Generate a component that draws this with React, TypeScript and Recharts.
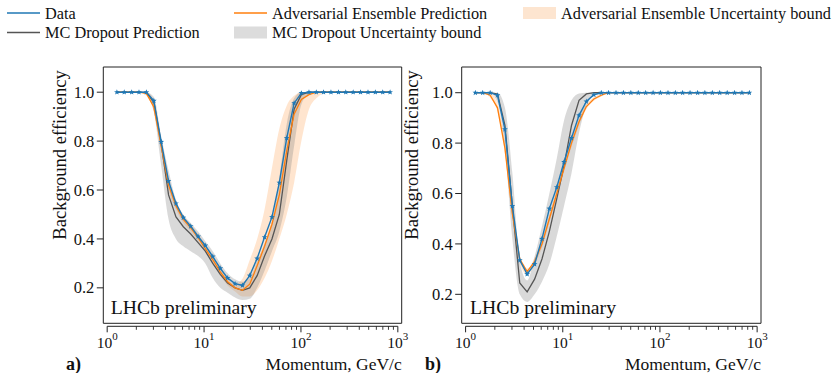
import React from "react"
import {
  ComposedChart,
  Line,
  Area,
  XAxis,
  YAxis,
  ReferenceArea,
  ReferenceLine,
} from "recharts"

// momentum bin centres, GeV/c
const momentum = [
  1.26, 1.5, 1.79, 2.13, 2.54, 3.03, 3.61, 4.3, 5.13, 6.11, 7.28, 8.68, 10.3,
  12.3, 14.7, 17.5, 20.9, 24.9, 29.6, 35.3, 42.1, 50.2, 59.8, 71.3, 85, 101,
  121, 144, 171, 204, 244, 290, 346, 412, 492, 586, 698, 832,
]

// panel a)
const aData = [
  1, 1, 1, 1, 1, 0.965, 0.797, 0.637, 0.545, 0.487, 0.452, 0.41, 0.373, 0.328,
  0.28, 0.24, 0.217, 0.21, 0.25, 0.32, 0.407, 0.489, 0.63, 0.812, 0.955, 0.996,
  1, 1, 1, 1, 1, 1, 1, 1, 1, 1, 1, 1,
]
const aAE = [
  1, 1, 1, 1, 0.995, 0.94, 0.78, 0.62, 0.535, 0.48, 0.445, 0.405, 0.36, 0.315,
  0.265, 0.225, 0.2, 0.19, 0.215, 0.29, 0.37, 0.46, 0.58, 0.76, 0.91, 0.97,
  0.99, 1, 1, 1, 1, 1, 1, 1, 1, 1, 1, 1,
]
const aAELow = [
  1, 1, 1, 1, 0.985, 0.92, 0.76, 0.6, 0.52, 0.465, 0.43, 0.39, 0.345, 0.3,
  0.25, 0.21, 0.185, 0.165, 0.165, 0.19, 0.24, 0.31, 0.4, 0.5, 0.63, 0.8, 0.93,
  0.975, 0.995, 1, 1, 1, 1, 1, 1, 1, 1, 1,
]
const aAEHigh = [
  1, 1, 1, 1, 1, 0.965, 0.8, 0.64, 0.55, 0.495, 0.46, 0.42, 0.375, 0.33, 0.28,
  0.24, 0.215, 0.237, 0.314, 0.4, 0.52, 0.69, 0.85, 0.945, 0.985, 1, 1, 1, 1,
  1, 1, 1, 1, 1, 1, 1, 1, 1,
]
const aMC = [
  1, 1, 1, 1, 0.998, 0.96, 0.79, 0.58, 0.49, 0.45, 0.42, 0.385, 0.35, 0.3,
  0.255, 0.22, 0.2, 0.19, 0.2, 0.25, 0.33, 0.4, 0.5, 0.72, 0.93, 0.99, 1, 1, 1,
  1, 1, 1, 1, 1, 1, 1, 1, 1,
]
const aMCLow = [
  1, 1, 1, 1, 0.99, 0.92, 0.7, 0.48, 0.4, 0.37, 0.35, 0.33, 0.3, 0.24, 0.2,
  0.18, 0.16, 0.15, 0.155, 0.2, 0.27, 0.35, 0.43, 0.57, 0.78, 0.95, 0.993, 1,
  1, 1, 1, 1, 1, 1, 1, 1, 1, 1,
]
const aMCHigh = [
  1, 1, 1, 1, 1, 0.98, 0.82, 0.68, 0.56, 0.5, 0.465, 0.43, 0.39, 0.35, 0.3,
  0.26, 0.235, 0.225, 0.24, 0.31, 0.38, 0.47, 0.65, 0.87, 0.975, 1, 1, 1, 1, 1,
  1, 1, 1, 1, 1, 1, 1, 1,
]

// panel b)
const bData = [
  1, 1, 1, 0.99, 0.855, 0.55, 0.335, 0.28, 0.32, 0.42, 0.54, 0.625, 0.725,
  0.82, 0.91, 0.965, 0.992, 1, 1, 1, 1, 1, 1, 1, 1, 1, 1, 1, 1, 1, 1, 1, 1, 1,
  1, 1, 1, 1,
]
const bAE = [
  1, 1, 0.99, 0.94, 0.78, 0.52, 0.34, 0.29, 0.33, 0.4, 0.5, 0.6, 0.7, 0.8,
  0.885, 0.945, 0.975, 0.99, 1, 1, 1, 1, 1, 1, 1, 1, 1, 1, 1, 1, 1, 1, 1, 1, 1,
  1, 1, 1,
]
const bAELow = [
  1, 1, 0.98, 0.925, 0.76, 0.5, 0.325, 0.278, 0.318, 0.385, 0.485, 0.585,
  0.685, 0.785, 0.87, 0.935, 0.968, 0.985, 1, 1, 1, 1, 1, 1, 1, 1, 1, 1, 1, 1,
  1, 1, 1, 1, 1, 1, 1, 1,
]
const bAEHigh = [
  1, 1, 1, 0.955, 0.8, 0.54, 0.355, 0.302, 0.345, 0.415, 0.515, 0.615, 0.715,
  0.815, 0.9, 0.955, 0.982, 0.995, 1, 1, 1, 1, 1, 1, 1, 1, 1, 1, 1, 1, 1, 1, 1,
  1, 1, 1, 1, 1,
]
const bMC = [
  1, 1, 1, 0.995, 0.87, 0.55, 0.245, 0.21, 0.26, 0.34, 0.45, 0.58, 0.71, 0.87,
  0.97, 0.995, 1, 1, 1, 1, 1, 1, 1, 1, 1, 1, 1, 1, 1, 1, 1, 1, 1, 1, 1, 1, 1, 1,
]
const bMCLow = [
  1, 1, 1, 0.96, 0.78, 0.42, 0.2, 0.17, 0.2, 0.25, 0.32, 0.43, 0.55, 0.68,
  0.84, 0.95, 0.99, 1, 1, 1, 1, 1, 1, 1, 1, 1, 1, 1, 1, 1, 1, 1, 1, 1, 1, 1, 1,
  1,
]
const bMCHigh = [
  1, 1, 1, 1, 0.94, 0.68, 0.33, 0.255, 0.35, 0.47, 0.6, 0.74, 0.89, 0.97,
  0.997, 1, 1, 1, 1, 1, 1, 1, 1, 1, 1, 1, 1, 1, 1, 1, 1, 1, 1, 1, 1, 1, 1, 1,
]

const majorTicks = [1, 10, 100, 1000]
const minorTicks = [
  2, 3, 4, 5, 6, 7, 8, 9, 20, 30, 40, 50, 60, 70, 80, 90, 200, 300, 400, 500,
  600, 700, 800, 900,
]
const yTicks = [0.2, 0.4, 0.6, 0.8, 1.0]

const X_MIN = 0.912
const X_MAX = 1096

const BLUE = "#1f77b4"
const ORANGE = "#ff7f0e"
const GRAY = "#555555"
const FONT = "Liberation Serif, Tinos, DejaVu Serif, Noto Serif, Times, serif"

function buildRows(d, ae, aeLo, aeHi, mc, mcLo, mcHi) {
  return momentum.map((p, i) => ({
    p,
    data: d[i],
    ae: ae[i],
    aeBand: [aeLo[i], aeHi[i]],
    mc: mc[i],
    mcBand: [mcLo[i], mcHi[i]],
  }))
}

const Star = (props) => {
  const { cx, cy } = props
  if (cx == null || cy == null) return null
  const pts = []
  for (let k = 0; k < 10; k++) {
    const r = k % 2 === 0 ? 3 : 1.3
    const a = -Math.PI / 2 + (k * Math.PI) / 5
    pts.push(`${cx + r * Math.cos(a)},${cy + r * Math.sin(a)}`)
  }
  return <polygon points={pts.join(" ")} fill={BLUE} stroke="none" />
}

const XTick = (props) => {
  const { x, y, payload } = props
  const v = payload.value
  const major = majorTicks.includes(v)
  if (!major) {
    return <line x1={x} x2={x} y1={y + 3} y2={y + 6.5} stroke="#222" strokeWidth={0.9} />
  }
  const exp = Math.round(Math.log10(v))
  return (
    <g>
      <line x1={x} x2={x} y1={y + 3} y2={y + 9} stroke="#222" strokeWidth={1} />
      <text x={x} y={y + 25} textAnchor="middle" style={{ fontFamily: FONT }} fontSize={15.5} fill="#111">
        <tspan>10</tspan>
        <tspan dy={-8} fontSize={11}>{exp}</tspan>
      </text>
    </g>
  )
}

const YTick = (props) => {
  const { x, y, payload } = props
  return (
    <g>
      <line x1={x - 6.5} x2={x} y1={y} y2={y} stroke="#222" strokeWidth={1} />
      <text x={x - 9} y={y + 5.6} textAnchor="end" style={{ fontFamily: FONT }} fontSize={16.5} fill="#111">
        {payload.value.toFixed(1)}
      </text>
    </g>
  )
}

function Panel({ rows, yDomain, left, width, marginLeft, yAxisWidth, marginRight }) {
  return (
    <div style={{ position: "absolute", left, top: 0 }}>
      <ComposedChart
        width={width}
        height={373}
        data={rows}
        margin={{ top: 67, right: marginRight, left: marginLeft, bottom: 9.7 }}
      >
        <XAxis
          dataKey="p"
          type="number"
          scale="log"
          domain={[X_MIN, X_MAX]}
          allowDataOverflow
          ticks={[...majorTicks, ...minorTicks]}
          tick={(p) => <XTick {...p} />}
          tickLine={false}
          axisLine={false}
          tickSize={0}
          tickMargin={0}
          height={40}
          interval={0}
        />
        <YAxis
          type="number"
          domain={yDomain}
          allowDataOverflow
          ticks={yTicks}
          tick={(p) => <YTick {...p} />}
          tickLine={false}
          axisLine={false}
          tickSize={0}
          tickMargin={0}
          width={yAxisWidth}
          interval={0}
        />
        <Area
          dataKey="aeBand"
          type="monotone"
          stroke="none"
          fill={ORANGE}
          fillOpacity={0.2}
          isAnimationActive={false}
        />
        <Area
          dataKey="mcBand"
          type="monotone"
          stroke="none"
          fill="#808080"
          fillOpacity={0.3}
          isAnimationActive={false}
        />
        <Line
          dataKey="mc"
          type="linear"
          stroke={GRAY}
          strokeWidth={1.3}
          dot={false}
          isAnimationActive={false}
        />
        <Line
          dataKey="ae"
          type="linear"
          stroke={ORANGE}
          strokeWidth={1.3}
          dot={false}
          isAnimationActive={false}
        />
        <Line
          dataKey="data"
          type="linear"
          stroke={BLUE}
          strokeWidth={1.4}
          dot={<Star />}
          activeDot={false}
          isAnimationActive={false}
        />
        <ReferenceArea
          x1={X_MIN}
          x2={X_MAX}
          y1={yDomain[0]}
          y2={yDomain[1]}
          fill="none"
          stroke="#222"
          strokeWidth={1}
          ifOverflow="visible"
        />
        <ReferenceLine
          segment={[
            { x: 1, y: yDomain[0] },
            { x: 1000, y: yDomain[0] },
          ]}
          ifOverflow="visible"
          shape={(p) => (
            <line x1={p.x1} y1={p.y1 + 3} x2={p.x2} y2={p.y2 + 3} stroke="#222" strokeWidth={1} />
          )}
        />
      </ComposedChart>
    </div>
  )
}

const LegendLine = ({ x, y, color, label }) => (
  <g>
    <line x1={x} x2={x + 33} y1={y} y2={y} stroke={color} strokeWidth={1.5} />
    <text x={x + 38} y={y + 5.5} style={{ fontFamily: FONT }} fontSize={16.3} fill="#111">
      {label}
    </text>
  </g>
)

const LegendPatch = ({ x, y, color, label }) => (
  <g>
    <rect x={x} y={y - 6} width={33} height={12} fill={color} />
    <text x={x + 38} y={y + 5.5} style={{ fontFamily: FONT }} fontSize={16.3} fill="#111">
      {label}
    </text>
  </g>
)

export default function App() {
  const rowsA = buildRows(aData, aAE, aAELow, aAEHigh, aMC, aMCLow, aMCHigh)
  const rowsB = buildRows(bData, bAE, bAELow, bAEHigh, bMC, bMCLow, bMCHigh)
  const t = { fontFamily: FONT }

  return (
    <div style={{ position: "absolute", left: 0, top: 0, width: 836, height: 373, background: "#fff", fontFamily: FONT }}>
      <Panel rows={rowsA} yDomain={[0.055, 1.103]} left={0} width={420} marginLeft={53.3} yAxisWidth={50} marginRight={18.3} />
      <Panel rows={rowsB} yDomain={[0.085, 1.102]} left={420} width={416} marginLeft={5.7} yAxisWidth={36} marginRight={75} />
      <svg
        width={836}
        height={373}
        style={{ position: "absolute", left: 0, top: 0, pointerEvents: "none" }}
      >
        <LegendLine x={7} y={13} color={BLUE} label="Data" />
        <LegendLine x={7} y={32.5} color={GRAY} label="MC Dropout Prediction" />
        <LegendLine x={234} y={13} color={ORANGE} label="Adversarial Ensemble Prediction" />
        <LegendPatch x={234} y={32.5} color="#dcdcdc" label="MC Dropout Uncertainty bound" />
        <LegendPatch x={523} y={13} color="#fde5d0" label="Adversarial Ensemble Uncertainty bound" />

        <text transform="translate(66,155) rotate(-90)" textAnchor="middle" style={t} fontSize={18.6} fill="#111">
          Background efficiency
        </text>
        <text transform="translate(418,155) rotate(-90)" textAnchor="middle" style={t} fontSize={18.6} fill="#111">
          Background efficiency
        </text>

        <text x={401.7} y={369.5} textAnchor="end" style={t} fontSize={17.5} fill="#111">
          Momentum, GeV/c
        </text>
        <text x={761} y={369.5} textAnchor="end" style={t} fontSize={17.5} fill="#111">
          Momentum, GeV/c
        </text>

        <text x={66} y={369.5} style={t} fontSize={18} fontWeight="bold" fill="#111">
          a)
        </text>
        <text x={425} y={369.5} style={t} fontSize={18} fontWeight="bold" fill="#111">
          b)
        </text>

        <text x={110.7} y={313.5} style={t} fontSize={19.7} fill="#111">
          LHCb preliminary
        </text>
        <text x={470} y={313.5} style={t} fontSize={19.7} fill="#111">
          LHCb preliminary
        </text>
      </svg>
    </div>
  )
}
